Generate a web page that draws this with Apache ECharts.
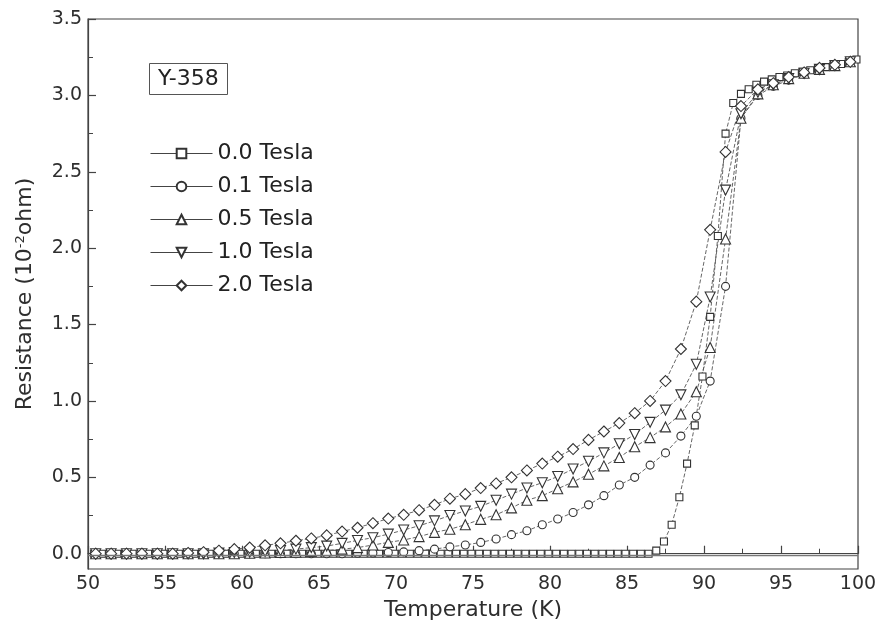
<!DOCTYPE html>
<html>
<head>
<meta charset="utf-8">
<script src="https://cdn.jsdelivr.net/npm/echarts@6/dist/echarts.min.js"></script>
<style>html,body{margin:0;padding:0;background:#fff}#c{width:880px;height:623px}</style>
</head>
<body>
<div id="c"></div>
<script>
// Temperatures (K) for the 0.0 Tesla run (denser sampling)
var t00 = [50.4,50.9,51.4,51.9,52.4,52.9,53.4,53.9,54.4,54.9,55.4,55.9,56.4,56.9,57.4,57.9,58.4,58.9,59.4,59.9,
  60.4,60.9,61.4,61.9,62.4,62.9,63.4,63.9,64.4,64.9,65.4,65.9,66.4,66.9,67.4,67.9,68.4,68.9,69.4,69.9,
  70.4,70.9,71.4,71.9,72.4,72.9,73.4,73.9,74.4,74.9,75.4,75.9,76.4,76.9,77.4,77.9,78.4,78.9,79.4,79.9,
  80.4,80.9,81.4,81.9,82.4,82.9,83.4,83.9,84.4,84.9,85.4,85.9,86.4,86.9,87.4,87.9,88.4,88.9,89.4,89.9,
  90.4,90.9,91.4,91.9,92.4,92.9,93.4,93.9,94.4,94.9,95.4,95.9,96.4,96.9,97.4,97.9,98.4,98.9,99.4,99.9];
var r00 = [0,0,0,0,0,0,0,0,0,0,0,0,0,0,0,0,0,0,0,0,
  0,0,0,0,0,0,0,0,0,0,0,0,0,0,0,0,0,0,0,0,
  0,0,0,0,0,0,0,0,0,0,0,0,0,0,0,0,0,0,0,0,
  0,0,0,0,0,0,0,0,0,0,0,0,0.0,0.02,0.08,0.19,0.37,0.59,0.84,1.16,
  1.55,2.08,2.75,2.95,3.01,3.04,3.07,3.09,3.105,3.12,3.13,3.145,3.155,3.165,3.175,3.185,3.195,3.205,3.22,3.235];

// Temperatures (K) for the in-field runs
var tField = [50.5,51.5,52.5,53.5,54.5,55.5,56.5,57.5,58.5,59.5,60.5,61.5,62.5,63.5,64.5,65.5,66.5,67.5,68.5,69.5,
  70.5,71.5,72.5,73.5,74.5,75.5,76.5,77.5,78.5,79.5,80.5,81.5,82.5,83.5,84.5,85.5,86.5,87.5,88.5,89.5,
  90.4,91.4,92.4,93.5,94.5,95.5,96.5,97.5,98.5,99.5];
var r01 = [0,0,0,0,0,0,0,0,0,0,0,0,0,0,0,0,0,0.003,0.005,0.008,
  0.012,0.02,0.03,0.045,0.057,0.074,0.096,0.125,0.15,0.19,0.227,0.27,0.32,0.38,0.45,0.50,0.58,0.66,0.77,0.90,
  1.13,1.75,2.85,3.0,3.06,3.1,3.14,3.17,3.195,3.22];
var r05 = [0,0,0,0,0,0,0,0,0,0,0.003,0.005,0.008,0.01,0.015,0.02,0.03,0.04,0.057,0.074,
  0.09,0.112,0.14,0.16,0.19,0.225,0.255,0.30,0.35,0.38,0.425,0.47,0.52,0.575,0.63,0.70,0.76,0.83,0.915,1.06,
  1.35,2.06,2.85,3.01,3.07,3.11,3.145,3.17,3.195,3.22];
var r10 = [0,0,0,0,0,0,0,0,0.005,0.008,0.01,0.015,0.02,0.03,0.04,0.05,0.068,0.087,0.105,0.128,
  0.155,0.183,0.215,0.25,0.28,0.31,0.35,0.39,0.43,0.465,0.505,0.555,0.605,0.66,0.72,0.78,0.86,0.94,1.04,1.24,
  1.68,2.38,2.88,3.02,3.07,3.11,3.145,3.17,3.195,3.22];
var r20 = [0,0,0,0,0,0,0.005,0.01,0.02,0.03,0.04,0.055,0.068,0.085,0.10,0.12,0.145,0.17,0.20,0.23,
  0.255,0.285,0.32,0.36,0.39,0.43,0.46,0.50,0.545,0.59,0.635,0.685,0.745,0.80,0.855,0.92,1.0,1.13,1.34,1.65,
  2.12,2.63,2.93,3.04,3.08,3.12,3.15,3.18,3.20,3.22];

var names = ['0.0 Tesla','0.1 Tesla','0.5 Tesla','1.0 Tesla','2.0 Tesla'];
var xTicks = [50,55,60,65,70,75,80,85,90,95,100];
var yTicks = [0,0.5,1.0,1.5,2.0,2.5,3.0,3.5];
var yMinor = [0.25,0.75,1.25,1.75,2.25,2.75,3.25];

function pairs(t, r){ return t.map(function(v,i){ return [v, r[i]]; }); }

var FONT = '"DejaVu Sans", Verdana, sans-serif';
var INK = '#2e2e2e';
var lineStyle = {color:'#555', width:0.9, type:[4,2]};
var itemStyle = {color:'#fff', borderColor:'#333', borderWidth:1.1};

function mk(name, t, r, symbol, size){
  return {
    name:name, type:'line', data:pairs(t,r), symbol:symbol, symbolSize:size,
    showAllSymbol:true, lineStyle:lineStyle, itemStyle:itemStyle, animation:false, z:3
  };
}

var series = [
  mk(names[0], t00, r00, 'rect', 7),
  mk(names[1], tField, r01, 'circle', 8),
  mk(names[2], tField, r05, 'triangle', 10),
  mk(names[3], tField, r10, 'path://M0,0 L10,0 L5,9 Z', 10),
  mk(names[4], tField, r20, 'diamond', 11)
];
series[0].markLine = {
  silent:true, symbol:'none', label:{show:false},
  lineStyle:{color:'#777', width:1.3, type:'solid'},
  data:[{yAxis:-0.015}], animation:false
};

var chart = echarts.init(document.getElementById('c'), null, {renderer:'canvas'});
chart.setOption({
  backgroundColor:'#fff',
  animation:false,
  title:{
    text:'Y-358', left:149, top:63,
    borderColor:'#555', borderWidth:1, padding:[4,9,3,9],
    textStyle:{fontFamily:FONT, fontSize:22, fontWeight:'normal', color:'#222', lineHeight:25}
  },
  legend:{
    orient:'vertical', left:145, top:136,
    itemWidth:62, itemHeight:12, itemGap:8,
    lineStyle:{type:'solid', width:1, color:'#444'},
    textStyle:{fontFamily:FONT, fontSize:22, color:'#222', lineHeight:25, padding:[0,0,0,0]},
    data:names
  },
  grid:{left:88, right:22, top:19, bottom:54, outerBoundsMode:'none', containLabel:false,
    show:true, borderColor:'#444', borderWidth:1.2, backgroundColor:'transparent'},
  xAxis:{
    type:'value', min:50, max:100, interval:5,
    name:'Temperature (K)', nameLocation:'middle', nameGap:17,
    nameTextStyle:{fontFamily:FONT, fontSize:22, color:INK},
    axisLine:{lineStyle:{color:'#444', width:1.2}},
    axisTick:{inside:true, length:8, lineStyle:{color:'#444', width:1.2}},
    minorTick:{show:true, splitNumber:2, length:5, lineStyle:{color:'#444', width:1}},
    axisLabel:{fontFamily:FONT, fontSize:19, color:INK, margin:6},
    splitLine:{show:false}
  },
  yAxis:[{
    type:'value', min:-0.1, max:3.5,
    name:'{a|Resistance (10}{s|-2}{a|ohm)}', nameLocation:'middle', nameGap:51, nameRotate:90,
    nameTextStyle:{rich:{
      a:{fontFamily:FONT, fontSize:22, color:INK},
      s:{fontFamily:FONT, fontSize:13, color:INK, verticalAlign:'top', padding:[0,0,10,0]}
    }},
    axisLine:{lineStyle:{color:'#444', width:1.2}},
    axisTick:{inside:true, length:8, customValues:yTicks, lineStyle:{color:'#444', width:1.2}},
    axisLabel:{fontFamily:FONT, fontSize:19, color:INK, margin:6, customValues:yTicks,
      formatter:function(v){ return v.toFixed(1); }},
    splitLine:{show:false}
  },{
    type:'value', min:-0.1, max:3.5, position:'left',
    axisLine:{show:false},
    axisTick:{inside:true, length:5, customValues:yMinor, lineStyle:{color:'#444', width:1}},
    axisLabel:{show:false},
    splitLine:{show:false}
  }],
  series:series
});
</script>
</body>
</html>
